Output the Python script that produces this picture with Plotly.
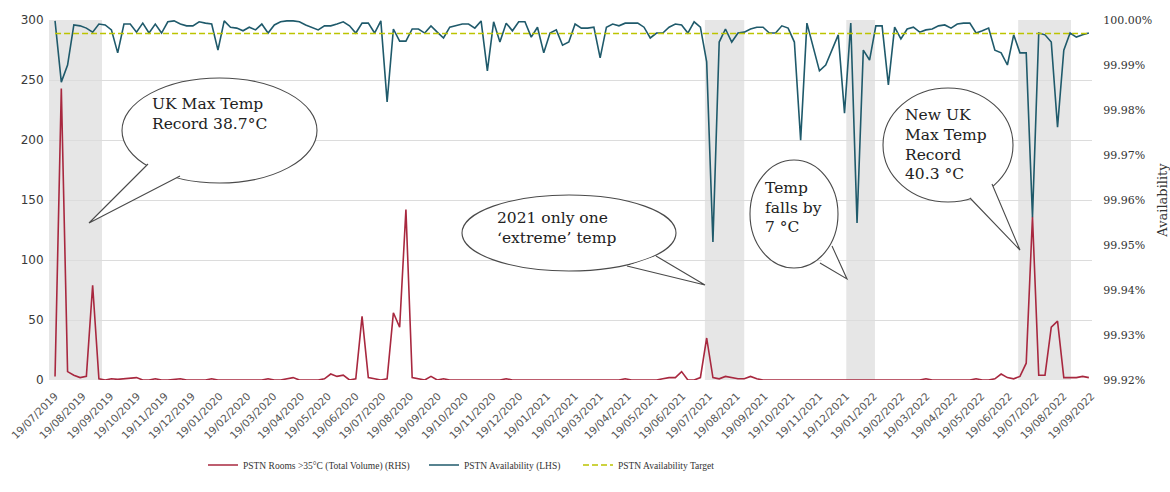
import pandas as pd
import plotly.graph_objects as go

# ---------------- data ----------------
start_date = "2019-07-19"
n_weeks = 166
dates = pd.date_range(start_date, periods=n_weeks, freq="7D")

rooms_over_35 = [
    3, 243, 7, 4, 2, 3, 79, 1, 0, 1,
    0.5, 1, 2, 2, 0, 0, 1, 0, 0, 0.5,
    1, 0, 0, 0.5, 0, 1, 0, 0, 0, 0,
    0, 0, 0, 0, 1, 0, 0, 1, 2, 0,
    0, 0, 0, 1, 5, 3, 4, 0, 1, 53,
    2, 1, 0, 1, 56, 44, 142, 2, 1, 0,
    3, 0, 1, 0, 0, 0, 0, 0.5, 0, 0,
    0, 0, 1, 0, 0, 0, 0, 0, 0, 0.5,
    0, 0, 0, 0, 0, 0, 0.5, 0, 0, 0,
    0, 1, 0, 0, 0, 0, 0, 1, 2, 2,
    7, 0, 0, 2, 35, 2, 1, 3, 2, 1,
    1, 3, 1, 0, 0, 0, 0, 0, 0, 0,
    0, 0, 0, 0, 0, 0, 0, 0, 0, 0,
    0, 0, 0, 0, 0, 0, 0, 0, 0, 1,
    0, 0, 0, 0, 0, 0, 0, 1, 0, 0,
    1, 5, 2, 1, 3, 14, 136, 4, 4, 44,
    49, 2, 2, 2, 3, 2,
]

availability = [
    99.9998, 99.9862, 99.9900, 99.9989, 99.9987, 99.9982, 99.9973, 99.9991, 99.9989, 99.9978,
    99.9927, 99.9991, 99.9991, 99.9973, 99.9993, 99.9971, 99.9991, 99.9971, 99.9996, 99.9998,
    99.9991, 99.9987, 99.9987, 99.9996, 99.9993, 99.9991, 99.9933, 99.9998, 99.9984, 99.9982,
    99.9976, 99.9984, 99.9978, 99.9991, 99.9971, 99.9989, 99.9996, 99.9998, 99.9998, 99.9996,
    99.9989, 99.9984, 99.9978, 99.9987, 99.9987, 99.9991, 99.9996, 99.9987, 99.9971, 99.9993,
    99.9993, 99.9971, 99.9998, 99.9818, 99.9980, 99.9953, 99.9953, 99.9980, 99.9980, 99.9971,
    99.9987, 99.9973, 99.9960, 99.9984, 99.9987, 99.9991, 99.9991, 99.9982, 99.9998, 99.9887,
    99.9996, 99.9951, 99.9993, 99.9976, 99.9996, 99.9996, 99.9962, 99.9984, 99.9927, 99.9971,
    99.9978, 99.9944, 99.9951, 99.9991, 99.9982, 99.9982, 99.9984, 99.9916, 99.9984, 99.9991,
    99.9987, 99.9993, 99.9993, 99.9993, 99.9984, 99.9960, 99.9971, 99.9971, 99.9984, 99.9991,
    99.9989, 99.9971, 99.9996, 99.9984, 99.9907, 99.9507, 99.9951, 99.9980, 99.9951, 99.9971,
    99.9973, 99.9980, 99.9984, 99.9984, 99.9971, 99.9971, 99.9987, 99.9982, 99.9951, 99.9733,
    99.9993, 99.9940, 99.9887, 99.9900, 99.9933, 99.9967, 99.9793, 99.9993, 99.9549, 99.9933,
    99.9911, 99.9987, 99.9987, 99.9856, 99.9984, 99.9958, 99.9980, 99.9984, 99.9973, 99.9978,
    99.9980, 99.9987, 99.9989, 99.9982, 99.9991, 99.9993, 99.9993, 99.9971, 99.9976, 99.9982,
    99.9933, 99.9927, 99.9900, 99.9967, 99.9927, 99.9927, 99.9562, 99.9971, 99.9967, 99.9951,
    99.9762, 99.9933, 99.9971, 99.9962, 99.9967, 99.9971,
]

availability_target = 99.997

tick_dates = pd.date_range("2019-07-01", "2022-09-01", freq="MS") + pd.Timedelta(days=18)
tick_labels = [d.strftime("%d/%m/%Y") for d in tick_dates]

# shaded heat periods (start, end)
heat_bands = [
    ("2019-07-12 06:00", "2019-09-09 12:00"),
    ("2021-07-14", "2021-08-27"),
    ("2021-12-19", "2022-01-20"),
    ("2022-06-29", "2022-08-27"),
]

series_names = [
    "PSTN Rooms >35°C (Total Volume) (RHS)",
    "PSTN Availability (LHS)",
    "PSTN Availability Target",
]

# ---------------- layout helpers ----------------
W, H = 1170, 492
PL, PR, PT, PB = 49, 1092, 20, 380


def px(x):
    return (x - PL) / (PR - PL)


def py(y):
    return (PB - y) / (PB - PT)


RED = "#a8283f"
BLUE = "#1f5a6b"
GOLD = "#bcc400"
BAND = "#e6e6e6"
OUTLINE = "#4a4a4a"

fig = go.Figure()

fig.add_trace(go.Scatter(
    x=dates, y=rooms_over_35, mode="lines", name=series_names[0],
    line=dict(color=RED, width=1.6), yaxis="y", legend="legend",
))
fig.add_trace(go.Scatter(
    x=dates, y=availability, mode="lines", name=series_names[1],
    line=dict(color=BLUE, width=1.6), yaxis="y2", legend="legend2",
))
fig.add_trace(go.Scatter(
    x=dates, y=[availability_target] * len(dates), mode="lines", name=series_names[2],
    line=dict(color=GOLD, width=1.6, dash="6px,3px"), yaxis="y2", legend="legend3",
))

shapes = []
for b0, b1 in heat_bands:
    shapes.append(dict(type="rect", xref="x", yref="paper", x0=b0, x1=b1, y0=0, y1=1,
                       fillcolor=BAND, line=dict(width=0), layer="below"))

# speech bubbles: ellipse (x0,y0,x1,y1) and tail (a, tip, b) in pixels
bubbles = [
    dict(ell=(122, 78, 317, 183), tail=((148, 164), (89, 223), (180, 176))),
    dict(ell=(462, 195, 676, 271), tail=((656, 256), (705, 285), (627, 266))),
    dict(ell=(750, 160, 838, 268), tail=((832, 246), (847, 279), (820, 263))),
    dict(ell=(883, 88, 1013, 202), tail=((992, 184), (1020, 250), (970, 198))),
]
for bb in bubbles:
    x0, y0, x1, y1 = bb["ell"]
    shapes.append(dict(type="circle", xref="paper", yref="paper",
                       x0=px(x0), x1=px(x1), y0=py(y1), y1=py(y0),
                       fillcolor="white", line=dict(color=OUTLINE, width=1.1), layer="above"))
    (ax, ay), (tx, ty), (bx, by) = bb["tail"]
    path = f"M {px(ax)},{py(ay)} L {px(tx)},{py(ty)} L {px(bx)},{py(by)}"
    shapes.append(dict(type="path", xref="paper", yref="paper", path=path,
                       fillcolor="white", line=dict(color=OUTLINE, width=1.1), layer="above"))

bubble_texts = [
    (150, [(104, "UK Max Temp"), (124, "Record 38.7°C")]),
    (495, [(218, "2021 only one"), (238, "‘extreme’ temp")]),
    (763, [(188, "Temp"), (208, "falls by"), (227, "7 °C")]),
    (903, [(115, "New UK"), (135, "Max Temp"), (155, "Record"), (174, "40.3 °C")]),
]
annotations = []
for tx, lines in bubble_texts:
    for ty, txt in lines:
        annotations.append(dict(text=txt, xref="paper", yref="paper", x=px(tx), y=py(ty),
                                xanchor="left", yanchor="middle", showarrow=False,
                                font=dict(family="DejaVu Serif", size=15.5, color="#222222")))

legend_common = dict(orientation="h", yanchor="middle", xanchor="left", y=py(465),
                     bgcolor="rgba(0,0,0,0)",
                     font=dict(family="Liberation Serif", size=9.5, color="#333333"))

fig.update_layout(
    width=W, height=H,
    margin=dict(l=PL, r=W - PR, t=PT, b=H - PB, autoexpand=False),
    paper_bgcolor="white", plot_bgcolor="white",
    showlegend=True,
    legend=dict(x=px(203), **legend_common),
    legend2=dict(x=px(424), **legend_common),
    legend3=dict(x=px(578), **legend_common),
    xaxis=dict(
        type="date", range=["2019-07-12 06:00", "2022-09-19 12:00"],
        tickmode="array", tickvals=tick_dates, ticktext=tick_labels, tickangle=-45,
        showgrid=False, zeroline=False, showline=False,
        ticks="outside", ticklen=5, tickcolor="rgba(0,0,0,0)",
        tickfont=dict(family="DejaVu Sans", size=10.5, color="#555555"),
    ),
    yaxis=dict(
        range=[0, 300], tickmode="array", tickvals=[0, 50, 100, 150, 200, 250, 300],
        showgrid=True, gridcolor="#dcdcdc", gridwidth=1, zeroline=False, showline=False,
        ticks="outside", ticklen=2, tickcolor="rgba(0,0,0,0)",
        tickfont=dict(family="DejaVu Sans", size=12, color="#3a3a3a"),
    ),
    yaxis2=dict(
        overlaying="y", side="right", range=[99.92, 100.0],
        tickmode="array",
        tickvals=[99.92, 99.93, 99.94, 99.95, 99.96, 99.97, 99.98, 99.99, 100.0],
        ticktext=["99.92%", "99.93%", "99.94%", "99.95%", "99.96%", "99.97%",
                  "99.98%", "99.99%", "100.00%"],
        showgrid=False, zeroline=False, showline=False,
        ticks="outside", ticklen=8, tickcolor="rgba(0,0,0,0)",
        tickfont=dict(family="DejaVu Serif", size=11, color="#333333"),
        title=dict(text="Availability", standoff=6,
                   font=dict(family="DejaVu Serif", size=13, color="#333333")),
    ),
    shapes=shapes,
    annotations=annotations,
)

fig.write_html("out.html", config={"displayModeBar": False},
               post_script="document.body.style.margin='0';")
